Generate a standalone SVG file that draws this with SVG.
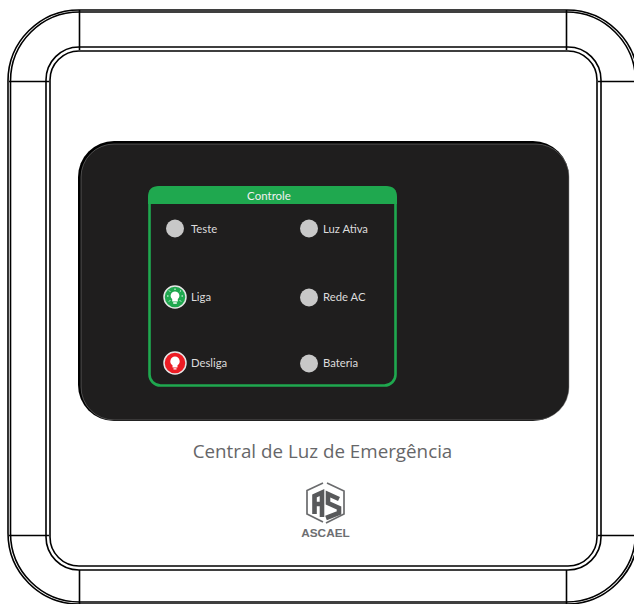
<svg xmlns="http://www.w3.org/2000/svg" width="634" height="604" viewBox="0 0 634 604">
<style>
.l{fill:none;stroke:#000;stroke-width:1.6}
.led{fill:#c8c8c8}
.t{font-family:"Lato","Open Sans",sans-serif;font-size:11.300px;fill:#dcdcdc}
.ring{stroke:#e6e6e6;stroke-width:1.500}
</style>
<rect width="634" height="604" fill="#fff"/>
<g id="housing">
<rect class="l" x="8" y="10" width="630" height="594" rx="71" ry="71"/>
<rect class="l" x="10.500" y="12" width="625" height="590" rx="69" ry="69"/>
<rect class="l" x="46" y="47" width="555" height="523" rx="33" ry="33"/>
<rect class="l" x="50" y="51" width="547" height="515" rx="29" ry="29"/>
<path class="l" d="M79.500 10V50M566.500 10V50M79.500 570V604M566.500 570V604M9 81.500H49M598 81.500H634M9 535.500H49M598 535.500H634"/>
</g>
<g id="panel">
<rect x="78" y="141" width="491" height="280" rx="36" ry="36" fill="#000"/>
<rect x="81" y="144" width="488" height="276" rx="33" ry="33" fill="#1f1e1e" stroke="#8a8a8a" stroke-width=".5"/>
</g>
<g id="controle">
<rect x="149.500" y="187.500" width="246" height="198" rx="11" ry="11" fill="none" stroke="#1fa84f" stroke-width="2.600"/>
<path d="M148 204V197Q148 186 159 186H386Q397 186 397 197V204Z" fill="#1fa84f"/>
<text x="269" y="200" text-anchor="middle" font-family="Lato,'Open Sans',sans-serif" font-size="11.500" fill="#f0f0f0">Controle</text>
</g>
<g id="teste"><circle class="led" cx="175" cy="228.500" r="9"/><text class="t" x="191" y="233">Teste</text></g>
<g id="luz-ativa"><circle class="led" cx="309" cy="228.500" r="9"/><text class="t" x="323" y="233">Luz Ativa</text></g>
<g id="liga">
<circle class="ring" cx="175" cy="297" r="11" fill="#1fa84f"/>
<path d="M175 291.500a4.300 4.300 0 0 1 2.800 7.600v2.400h-5.600v-2.400a4.300 4.300 0 0 1 2.800-7.600zM173.200 302.300h3.600v1.500h-3.600z" fill="#fff"/>
<path d="M175 288.500v1.500M169 290.500l1.200 1.200M181 290.500l-1.200 1.200M167 296h1.500M181.500 296h1.500M169 301.500l1.200-1.200M181 301.500l-1.200-1.200" stroke="#fff" stroke-width="1" fill="none"/>
<text class="t" x="191" y="301">Liga</text></g>
<g id="rede-ac"><circle class="led" cx="309" cy="297.500" r="9"/><text class="t" x="323" y="301">Rede AC</text></g>
<g id="desliga">
<circle class="ring" cx="175" cy="363" r="11" fill="#ed1c24"/>
<path d="M175 356.500a4.800 4.800 0 0 1 2.500 8.800v2.200h-5v-2.200a4.800 4.800 0 0 1 2.500-8.800zM173.500 368.300h3v1.300h-3z" fill="#fff"/>
<text class="t" x="191" y="367">Desliga</text></g>
<g id="bateria"><circle class="led" cx="309" cy="363.500" r="9"/><text class="t" x="323" y="367">Bateria</text></g>
<text id="titulo" x="322.500" y="458" text-anchor="middle" font-family="'Open Sans',sans-serif" font-size="18.800" fill="#666668">Central de Luz de Emergência</text>
<g id="logo">
<path d="M323 483L307 490.500V514L323 522M327 483L344 491V514L326 523" fill="none" stroke="#6a6b6d" stroke-width="1.700"/>
<path d="M314.500 514V496L322 492.500V517M314.500 504H322" fill="none" stroke="#58595b" stroke-width="4.600"/>
<path d="M339 499L328 494V503L339 508V513L326 518" fill="none" stroke="#58595b" stroke-width="4.600"/>
<text x="325.500" y="537" text-anchor="middle" font-family="'Liberation Sans',Arial,sans-serif" font-weight="700" font-size="11.800" fill="#6d6e71">ASCAEL</text>
</g>
</svg>
